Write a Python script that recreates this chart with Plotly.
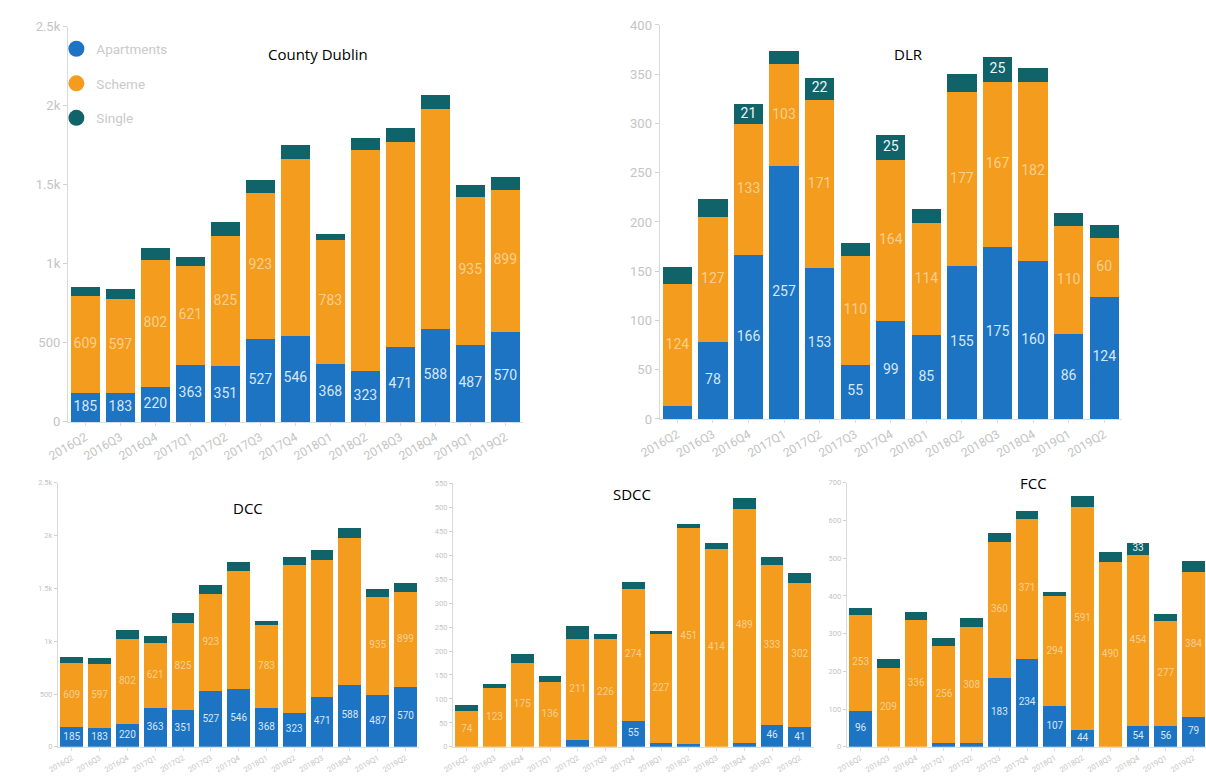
import plotly.graph_objects as go

W, H = 1206, 783

quarters = ["2016Q2", "2016Q3", "2016Q4", "2017Q1", "2017Q2", "2017Q3", "2017Q4",
            "2018Q1", "2018Q2", "2018Q3", "2018Q4", "2019Q1", "2019Q2"]
series_names = ["Apartments", "Scheme", "Single"]
colors = {"Apartments": "#1c74c3", "Scheme": "#f49c1d", "Single": "#11636a"}
label_colors = {"Apartments": "#d9e6f4", "Scheme": "#f9cf8e", "Single": "#eef6f6"}

# County Dublin
dublin_apartments = [185, 183, 220, 363, 351, 527, 546, 368, 323, 471, 588, 487, 570]
dublin_scheme = [609, 597, 802, 621, 825, 923, 1118, 783, 1396, 1300, 1388, 935, 899]
dublin_single = [57, 62, 80, 62, 89, 83, 89, 40, 77, 89, 93, 74, 79]

# DLR
dlr_apartments = [13, 78, 166, 257, 153, 55, 99, 85, 155, 175, 160, 86, 124]
dlr_scheme = [124, 127, 133, 103, 171, 110, 164, 114, 177, 167, 182, 110, 60]
dlr_single = [17, 18, 21, 14, 22, 14, 25, 14, 18, 25, 14, 13, 13]

# DCC
dcc_apartments = [185, 183, 220, 363, 351, 527, 546, 368, 323, 471, 588, 487, 570]
dcc_scheme = [609, 597, 802, 621, 825, 923, 1118, 783, 1396, 1300, 1388, 935, 899]
dcc_single = [57, 62, 80, 62, 89, 83, 89, 40, 77, 89, 93, 74, 79]

# SDCC
sdcc_apartments = [0, 0, 0, 0, 15, 0, 55, 9, 5, 0, 8, 46, 41]
sdcc_scheme = [74, 123, 175, 136, 211, 226, 274, 227, 451, 414, 489, 333, 302]
sdcc_single = [13, 9, 18, 12, 26, 10, 16, 6, 10, 12, 22, 17, 19]

# FCC
fcc_apartments = [96, 0, 0, 11, 9, 183, 234, 107, 44, 0, 54, 56, 79]
fcc_scheme = [253, 209, 336, 256, 308, 360, 371, 294, 591, 490, 454, 277, 384]
fcc_single = [18, 23, 22, 22, 25, 25, 20, 9, 30, 26, 33, 20, 29]

# Quarters whose segment label is left off (segment too thin, or label suppressed)
dublin_hidden = {"Apartments": set(), "Scheme": {"2017Q4", "2018Q2", "2018Q3", "2018Q4"},
                 "Single": set(quarters)}
dlr_hidden = {"Apartments": {"2016Q2"}, "Scheme": set(),
              "Single": set(quarters) - {"2016Q4", "2017Q2", "2017Q4", "2018Q3"}}
dcc_hidden = dublin_hidden
sdcc_hidden = {"Apartments": set(quarters) - {"2017Q4", "2019Q1", "2019Q2"}, "Scheme": set(),
               "Single": set(quarters)}
fcc_hidden = {"Apartments": {"2016Q3", "2016Q4", "2017Q1", "2017Q2", "2018Q3"}, "Scheme": set(),
              "Single": set(quarters) - {"2018Q4"}}

panels = [
    dict(title="County Dublin", data=[dublin_apartments, dublin_scheme, dublin_single],
         hidden=dublin_hidden, xpx=(47.7, 510.7), ypx=(20, 423), yr=2500, dtick=500,
         xr=(-0.5, 12.5), big=True, tpos=(302, 48)),
    dict(title="DLR", data=[dlr_apartments, dlr_scheme, dlr_single],
         hidden=dlr_hidden, xpx=(649.9, 1120.5), ypx=(18.3, 420), yr=400, dtick=50,
         xr=(-0.5, 12.5), big=True, tpos=(903, 48)),
    dict(title="DCC", data=[dcc_apartments, dcc_scheme, dcc_single],
         hidden=dcc_hidden, xpx=(37.5, 405.5), ypx=(485, 754.3), yr=2500, dtick=500,
         xr=(-0.5, 12.5), big=False, tpos=(231, 511)),
    dict(title="SDCC", data=[sdcc_apartments, sdcc_scheme, sdcc_single],
         hidden=sdcc_hidden, xpx=(439.6, 806.7), ypx=(485.7, 754.3), yr=550, dtick=50,
         xr=(-0.5, 12.5), big=False, tpos=(622, 497)),
    dict(title="FCC", data=[fcc_apartments, fcc_scheme, fcc_single],
         hidden=fcc_hidden, xpx=(840.4, 1206), ypx=(485, 754.3), yr=700, dtick=100,
         xr=(-0.5, 12.45), big=False, tpos=(1030, 485)),
]

fig = go.Figure()
layout = {}
annotations = []

for i, p in enumerate(panels, start=1):
    xa = "x" if i == 1 else f"x{i}"
    ya = "y" if i == 1 else f"y{i}"
    big = p["big"]
    label_size = 14 if big else 10
    base = [0] * len(quarters)
    for name, vals in zip(series_names, p["data"]):
        fig.add_trace(go.Bar(
            x=quarters, y=vals, name=name, marker=dict(color=colors[name], line=dict(width=0)),
            xaxis=xa, yaxis=ya, showlegend=False, hoverinfo="skip",
        ))
        mids = [b + v / 2 for b, v in zip(base, vals)]
        texts = ["" if (q in p["hidden"][name] or v == 0) else str(v)
                 for q, v in zip(quarters, vals)]
        fig.add_trace(go.Scatter(
            x=quarters, y=mids, text=texts, mode="text", xaxis=xa, yaxis=ya,
            textfont=dict(family="Roboto", size=label_size, color=label_colors[name]),
            showlegend=False, hoverinfo="skip", cliponaxis=False,
        ))
        base = [b + v for b, v in zip(base, vals)]

    x0, x1 = p["xpx"]
    yt, yb = p["ypx"]
    tick_font = dict(family="Roboto", size=12 if big else 7.5, color="#c4c4c4")
    layout["xaxis" if i == 1 else f"xaxis{i}"] = dict(
        domain=[x0 / W, x1 / W], anchor=ya, range=list(p["xr"]), type="category",
        showline=True, linecolor="#d6dee8", linewidth=1, ticks="outside", ticklen=3,
        tickcolor="#d6dee8", tickangle=-30, tickfont=tick_font, showgrid=False,
        fixedrange=True,
    )
    layout["yaxis" if i == 1 else f"yaxis{i}"] = dict(
        domain=[1 - yb / H, 1 - yt / H], anchor=xa, range=[0, p["yr"]], dtick=p["dtick"],
        tickformat="~s", showline=True, linecolor="#d9d9d9", linewidth=1, ticks="outside",
        ticklen=4 if big else 3, tickcolor="#d0d0d0", tickfont=dict(
            family="Roboto", size=13 if big else 7.5, color="#c4c4c4"),
        showgrid=False, zeroline=False, fixedrange=True,
    )
    tx, ty = p["tpos"]
    annotations.append(dict(
        text=p["title"], x=tx / W, y=1 - ty / H, xref="paper", yref="paper",
        xanchor="center", yanchor="middle", showarrow=False,
        font=dict(family="Open Sans", size=15, color="#000000"),
    ))

# Circle legend entries
for name in series_names:
    fig.add_trace(go.Scatter(
        x=[None], y=[None], mode="markers", name=name, legendgroup=name,
        marker=dict(size=16, color=colors[name], symbol="circle"),
        xaxis="x", yaxis="y", hoverinfo="skip",
    ))

layout.update(
    width=W, height=H, margin=dict(l=0, r=0, t=0, b=0),
    paper_bgcolor="white", plot_bgcolor="white",
    barmode="stack", bargap=0.18,
    showlegend=True,
    legend=dict(x=36 / W, y=1 - 27 / H, xanchor="left", yanchor="top",
                font=dict(family="Roboto", size=13.5, color="#cacaca"),
                bgcolor="rgba(0,0,0,0)", tracegroupgap=14, itemsizing="trace",
                traceorder="grouped"),
    annotations=annotations,
)
fig.update_layout(layout)

fig.write_html("out.html")
